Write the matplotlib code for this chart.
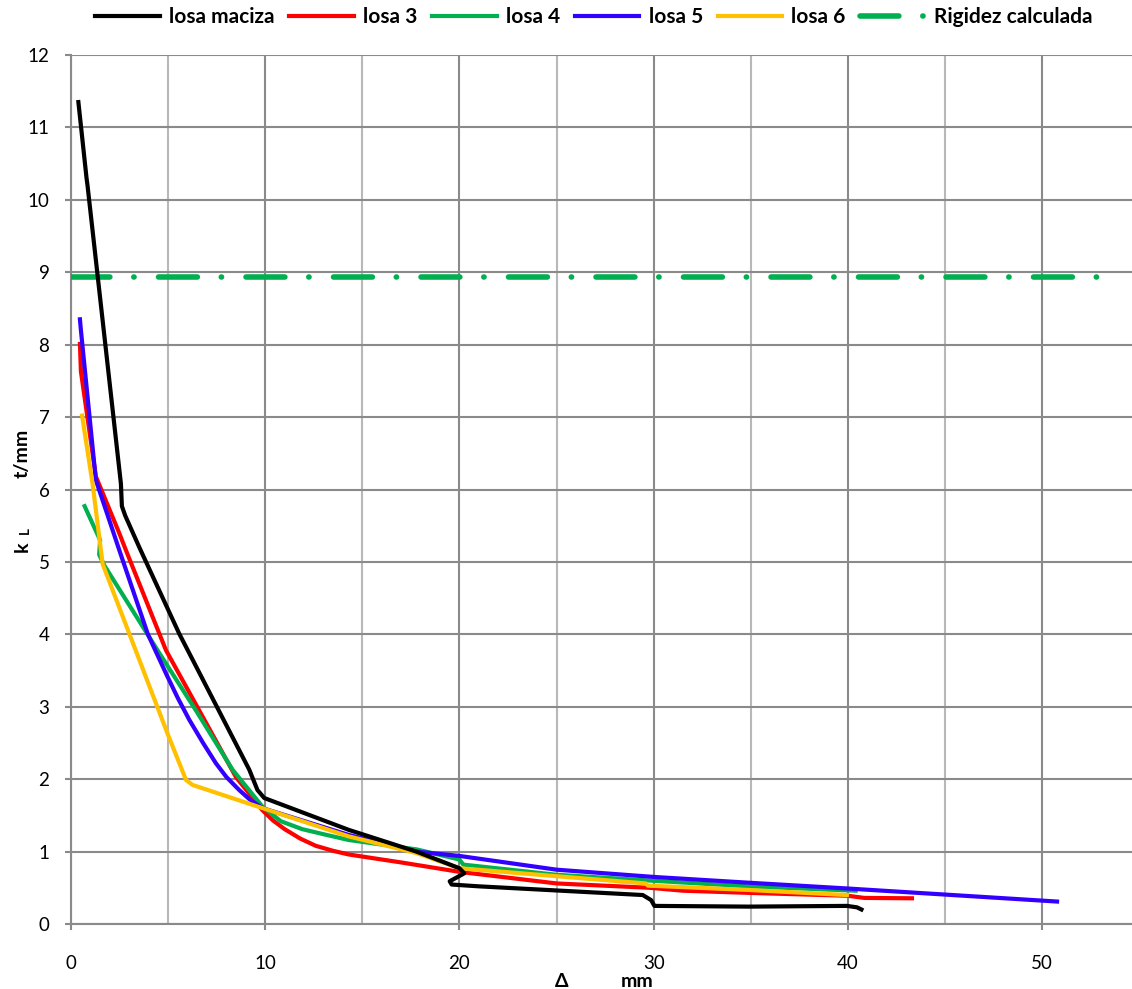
import matplotlib
matplotlib.use("Agg")
import matplotlib.pyplot as plt

plt.rcParams['font.family'] = ['Lato', 'DejaVu Sans']

# datos (desplazamiento mm, rigidez t/mm)
maciza_x = [0.38, 0.8, 0.85, 2.57, 2.62, 2.79, 3.52, 5.57, 9.18, 9.6, 9.95, 14.3, 17.78,
            20.0, 20.25, 19.5, 19.6, 21.0, 29.44, 29.87, 30.04, 34.9, 39.95, 40.47, 40.7]
maciza_y = [11.35, 10.3, 10.2, 6.08, 5.77, 5.64, 5.2, 4.01, 2.13, 1.85, 1.74, 1.30, 1.0,
            0.77, 0.70, 0.59, 0.545, 0.52, 0.40, 0.33, 0.25, 0.24, 0.25, 0.23, 0.20]

losa3_x = [0.46, 0.51, 1.28, 2.48, 2.83, 4.89, 6.6, 8.49, 9.86, 10.4, 11.0, 11.8, 12.6,
           13.5, 14.3, 17.0, 20.0, 25.0, 29.8, 31.5, 34.9, 40.0, 40.85, 43.3]
losa3_y = [8.01, 7.63, 6.18, 5.4, 5.16, 3.78, 2.95, 2.03, 1.57, 1.43, 1.31, 1.18, 1.08,
           1.01, 0.96, 0.85, 0.72, 0.56, 0.50, 0.46, 0.43, 0.39, 0.36, 0.355]

losa4_x = [0.7, 1.5, 1.45, 1.72, 4.55, 6.43, 8.32, 9.86, 10.8, 11.9, 13.0, 14.3, 17.8,
           20.0, 20.2, 25.0, 29.8, 34.9, 40.4]
losa4_y = [5.77, 5.3, 5.1, 4.95, 3.74, 2.95, 2.13, 1.62, 1.42, 1.31, 1.24, 1.16, 1.03,
           0.89, 0.82, 0.68, 0.60, 0.52, 0.46]

losa5_x = [0.46, 0.51, 1.28, 2.49, 3.96, 4.89, 5.5, 6.09, 6.8, 7.46, 8.0, 8.66, 9.2,
           9.86, 14.3, 17.78, 20.0, 25.0, 30.0, 34.9, 40.0, 50.77]
losa5_y = [8.35, 8.2, 6.13, 5.16, 4.0, 3.46, 3.12, 2.82, 2.5, 2.22, 2.03, 1.85, 1.72,
           1.60, 1.23, 1.0, 0.94, 0.75, 0.65, 0.57, 0.49, 0.31]

losa6_x = [0.57, 1.11, 1.63, 3.0, 4.97, 5.92, 6.26, 9.86, 14.3, 17.78, 20.0, 25.0, 29.6,
           29.7, 34.9, 39.95]
losa6_y = [7.02, 6.08, 4.97, 4.01, 2.63, 1.99, 1.92, 1.60, 1.21, 0.98, 0.77, 0.66, 0.56,
           0.53, 0.47, 0.40]

rigidez_x = [0, 53.7]
rigidez_y = [8.93, 8.93]

W, H = 1132, 989
fig = plt.figure(figsize=(W / 100, H / 100), dpi=100)
ax = fig.add_axes([71 / W, (H - 924) / H, (1132 - 71) / W, (924 - 55) / H])

lw = 3
ax.plot(maciza_x, maciza_y, color='black', lw=lw, label='losa maciza', zorder=5)
ax.plot(losa3_x, losa3_y, color='#ff0000', lw=lw, label='losa 3', zorder=3)
ax.plot(losa4_x, losa4_y, color='#00b050', lw=lw, label='losa 4', zorder=4)
ax.plot(losa5_x, losa5_y, color='#3300ff', lw=lw, label='losa 5', zorder=4)
ax.plot(losa6_x, losa6_y, color='#ffc000', lw=lw, label='losa 6', zorder=4)
ax.plot(rigidez_x, rigidez_y, color='#00b050', lw=4, label='Rigidez calculada',
        dashes=(7.0, 4.3, 0.05, 4.4), dash_capstyle='round', zorder=3)

ax.set_xlim(0, 54.63)
ax.set_ylim(0, 12)
ax.set_xticks(range(0, 51, 10))
ax.set_xticks(range(5, 50, 10), minor=True)
ax.set_yticks(range(0, 13))

ax.grid(which='major', axis='both', color='#8a8a8a', lw=1.5)
ax.grid(which='minor', axis='x', color='#b8b8b8', lw=1.5)
ax.set_axisbelow(True)

for s in ['top', 'right']:
    ax.spines[s].set_visible(False)
for s in ['left', 'bottom']:
    ax.spines[s].set_color('#8a8a8a')
    ax.spines[s].set_linewidth(1.5)

ax.tick_params(axis='y', which='major', length=4.5, width=1.5, color='#8a8a8a',
               labelsize=13.5, pad=11)
ax.tick_params(axis='x', which='major', length=4.5, width=1.5, color='#8a8a8a',
               labelsize=13.5, pad=18)
ax.tick_params(axis='x', which='minor', length=0)

# etiquetas de ejes
fig.text(22 / W, 1 - 547 / H, 'k', rotation=90, fontsize=14, fontweight='bold',
         ha='center', va='center')
fig.text(25 / W, 1 - 531 / H, 'L', rotation=90, fontsize=9.5, fontweight='bold',
         ha='center', va='center')
fig.text(22 / W, 1 - 453 / H, 't/mm', rotation=90, fontsize=14, fontweight='bold',
         ha='center', va='center')
fig.text(562 / W, 1 - 987 / H, 'Δ', fontsize=14, fontweight='bold',
         ha='center', va='baseline')
fig.text(637 / W, 1 - 987 / H, 'mm', fontsize=14, fontweight='bold',
         ha='center', va='baseline')

fig.legend(loc='center', bbox_to_anchor=(594 / W, 1 - 17 / H), ncol=6, frameon=False,
           prop={'weight': 'bold', 'size': 15}, handlelength=3.1, handletextpad=0.45,
           columnspacing=0.7)

fig.savefig('out.png', dpi=100)
